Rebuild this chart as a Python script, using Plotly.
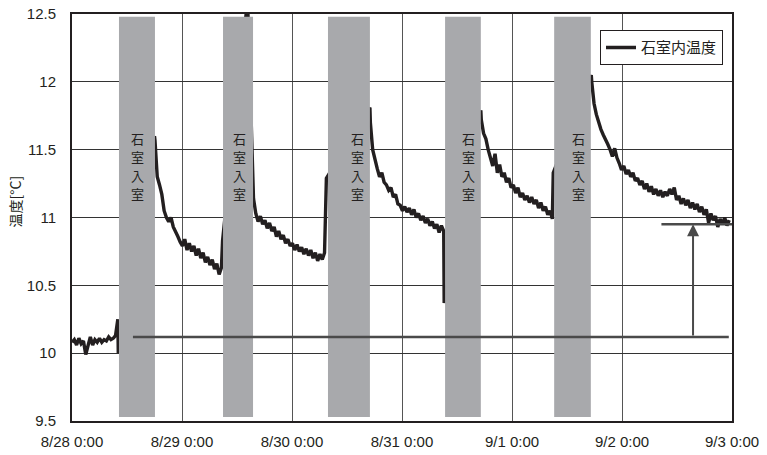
import numpy as np
import pandas as pd
import plotly.graph_objects as go

BASE = pd.Timestamp("2013-08-28 00:00")

# ---- temperature data (hours from 8/28 0:00, 0.5 h sampling within segments) ----
seg1_start = 0.0
seg1_vals = [10.08, 10.10, 10.06, 10.11, 10.07, 10.09, 9.99, 10.07, 10.12, 10.06, 10.10,
             10.08, 10.11, 10.08, 10.10, 10.09, 10.12, 10.10, 10.11, 10.13, 10.25]
seg2_start = 18.1
seg2_vals = [11.57, 11.30, 11.24, 11.17, 11.05, 11.00, 10.97, 11.00, 10.93, 10.90, 10.86, 10.82,
             10.79, 10.84, 10.76, 10.81, 10.75, 10.79, 10.72, 10.77, 10.70, 10.74, 10.67, 10.71,
             10.65, 10.69, 10.62, 10.66, 10.58, 10.63]
seg3_start = 39.6
seg3_vals = [11.14, 11.03, 10.97, 11.01, 10.95, 10.98, 10.92, 10.96, 10.90, 10.93, 10.86, 10.90,
             10.84, 10.87, 10.81, 10.84, 10.79, 10.81, 10.76, 10.80, 10.75, 10.78, 10.73, 10.77,
             10.72, 10.76, 10.70, 10.74, 10.68, 10.73, 10.69, 10.74]
seg4_start = 65.1
seg4_vals = [11.70, 11.50, 11.42, 11.36, 11.30, 11.33, 11.26, 11.24, 11.20, 11.22, 11.15, 11.17,
             11.10, 11.09, 11.05, 11.08, 11.04, 11.07, 11.02, 11.06, 11.00, 11.03, 10.98, 11.01,
             10.96, 10.99, 10.94, 10.97, 10.92, 10.95, 10.89, 10.94, 10.90]
seg5_start = 89.3
seg5_vals = [11.72, 11.62, 11.58, 11.50, 11.44, 11.38, 11.47, 11.33, 11.39, 11.30, 11.33, 11.26,
             11.29, 11.22, 11.24, 11.18, 11.22, 11.15, 11.18, 11.13, 11.16, 11.11, 11.15, 11.10,
             11.13, 11.07, 11.11, 11.05, 11.08, 11.02, 11.05, 10.99]
seg6_start = 113.4
seg6_vals = [12.00, 11.84, 11.76, 11.70, 11.65, 11.61, 11.58, 11.54, 11.50, 11.45, 11.51, 11.44,
             11.40, 11.35, 11.38, 11.32, 11.35, 11.30, 11.33, 11.27, 11.29, 11.24, 11.27, 11.21,
             11.25, 11.19, 11.23, 11.17, 11.21, 11.16, 11.20, 11.15, 11.19, 11.16, 11.21, 11.17,
             11.22, 11.13, 11.16, 11.10, 11.14, 11.09, 11.13, 11.07, 11.11, 11.06, 11.10, 11.04,
             11.08, 11.02, 11.06, 10.96, 11.03, 10.98, 11.01, 10.93, 10.99, 10.95, 11.00, 10.94,
             10.98]

# readings taken around / during the entry periods (hidden under bars)
edge_hours = [10.1, 18.0, 32.85, 38.3, 39.5, 55.5, 65.0, 81.2, 89.2, 105.0, 113.3]
edge_vals = [10.00, 11.60, 10.83, 12.60, 11.14, 11.29, 11.81, 10.37, 11.79, 11.33, 12.05]

# entry periods (hours)
entry_start = [10.25, 32.95, 55.85, 81.4, 105.2]
entry_end = [18.1, 39.5, 65.0, 89.2, 113.2]
entry_label_hour = [14.2, 36.6, 62.2, 86.5, 110.4]
entry_label = "石室入室"
bar_bottom, bar_top = 9.53, 12.48

# reference lines
base_level = 10.12
base_line_hours = (13.3, 143.3)
final_level = 10.95
final_line_hours = (128.6, 145.0)
arrow_hour = 135.5

tick_days = ["8/28 0:00", "8/29 0:00", "8/30 0:00", "8/31 0:00", "9/1 0:00", "9/2 0:00", "9/3 0:00"]
y_ticks = [9.5, 10, 10.5, 11, 11.5, 12, 12.5]

# ---- assemble series ----
pts = []
for st, vals in [(seg1_start, seg1_vals), (seg2_start, seg2_vals), (seg3_start, seg3_vals),
                 (seg4_start, seg4_vals), (seg5_start, seg5_vals), (seg6_start, seg6_vals)]:
    for i, v in enumerate(vals):
        pts.append((st + 0.5 * i, v))
pts += list(zip(edge_hours, edge_vals))
pts.sort()
hrs = np.array([p[0] for p in pts])
vals = np.array([p[1] for p in pts])

def T(h):
    return BASE + pd.Timedelta(hours=float(h))

x = [T(h) for h in hrs]

TXT = "#231f20"
NUMFONT = "Liberation Sans, Arial, Noto Sans CJK JP"
CJK = "Noto Sans CJK JP"

fig = go.Figure()
fig.add_trace(go.Scatter(x=x, y=vals, mode="lines", name="石室内温度",
                         line=dict(color="#231f20", width=3.4)))

shapes = []
for s, e in zip(entry_start, entry_end):
    shapes.append(dict(type="rect", xref="x", yref="y", x0=T(s), x1=T(e), y0=bar_bottom, y1=bar_top,
                       fillcolor="#a8a9ac", line=dict(width=0), layer="above"))
shapes.append(dict(type="line", xref="x", yref="y", x0=T(base_line_hours[0]), x1=T(base_line_hours[1]),
                   y0=base_level, y1=base_level, line=dict(color="#4a4a4a", width=2.5), layer="above"))
shapes.append(dict(type="line", xref="x", yref="y", x0=T(final_line_hours[0]), x1=T(final_line_hours[1]),
                   y0=final_level, y1=final_level, line=dict(color="#4a4a4a", width=2.5), layer="above"))

annotations = []
char_step = 18.5
for h in entry_label_hour:
    for k, ch in enumerate(entry_label):
        annotations.append(dict(x=T(h), y=11.38, xref="x", yref="y", text=ch,
                                yshift=(1.5 - k) * char_step, showarrow=False, borderpad=0,
                                font=dict(family=CJK, size=13, color=TXT)))
annotations.append(dict(x=T(arrow_hour), y=final_level, xref="x", yref="y", text="",
                        showarrow=True, ax=0, ay=(final_level - base_level) * 135.7,
                        arrowhead=2, arrowsize=1.2, arrowwidth=2, arrowcolor="#4a4a4a", standoff=0))
annotations.append(dict(x=-0.086, y=0.54, xref="paper", yref="paper", text="温度[°C]", textangle=-90,
                        xanchor="center", yanchor="middle",
                        showarrow=False, font=dict(family=CJK, size=14, color=TXT)))

fig.update_layout(
    width=767, height=455,
    margin=dict(l=72, r=35, t=14, b=34),
    paper_bgcolor="white", plot_bgcolor="white",
    font=dict(family=NUMFONT, size=15, color=TXT),
    shapes=shapes, annotations=annotations,
    showlegend=True,
    legend=dict(x=0.8, y=0.96, xanchor="left", yanchor="top", bgcolor="white",
                bordercolor="#231f20", borderwidth=1, font=dict(family=CJK, size=15, color=TXT),
                itemwidth=30, tracegroupgap=0),
    xaxis=dict(range=[T(0), T(144)], tickvals=[T(24 * i) for i in range(7)], ticktext=tick_days,
               showgrid=True, gridcolor="#555555", gridwidth=1, showline=True, linecolor="#231f20",
               linewidth=2, mirror=True, ticks="", zeroline=False, ticklabelstandoff=6,
               automargin=False, tickfont=dict(family=NUMFONT, size=15, color=TXT)),
    yaxis=dict(range=[9.5, 12.5], tickvals=y_ticks, ticktext=[f"{v:g}" for v in y_ticks],
               showgrid=True, gridcolor="#333333", gridwidth=1, showline=True, linecolor="#231f20",
               linewidth=2, mirror=True, ticks="", zeroline=False, ticklabelstandoff=11,
               automargin=False, tickfont=dict(family=NUMFONT, size=15, color=TXT)),
)

fig.write_html("out.html")
